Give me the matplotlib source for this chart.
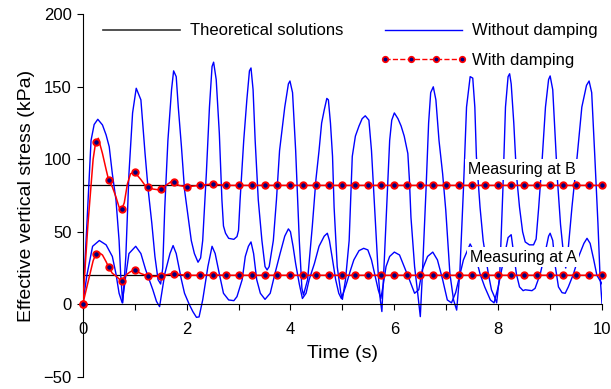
import numpy as np
import matplotlib
matplotlib.use("Agg")
import matplotlib.pyplot as plt
from matplotlib.lines import Line2D
from matplotlib.ticker import MultipleLocator

plt.rcParams['font.family'] = ['Liberation Sans', 'DejaVu Sans']

# theoretical solutions (kPa)
theory_b = 82
theory_a = 20

# without damping, measuring at B
t_free_b = [0.00, 0.08, 0.16, 0.22, 0.29, 0.38, 0.45, 0.51, 0.57, 0.64, 0.70, 0.73, 0.77, 0.83, 0.89,
            0.96, 1.03, 1.12, 1.20, 1.26, 1.33, 1.39, 1.45, 1.50, 1.54, 1.58, 1.64, 1.71, 1.75, 1.80,
            1.84, 1.90, 1.96, 2.03, 2.09, 2.15, 2.22, 2.27, 2.31, 2.38, 2.44, 2.49, 2.52, 2.57, 2.63,
            2.68, 2.71, 2.75, 2.81, 2.91, 2.97, 3.00, 3.03, 3.10, 3.16, 3.21, 3.24, 3.28, 3.32, 3.38,
            3.45, 3.51, 3.55, 3.59, 3.67, 3.73, 3.79, 3.89, 3.96, 3.99, 4.04, 4.10, 4.17, 4.22, 4.25,
            4.33, 4.42, 4.49, 4.55, 4.60, 4.65, 4.70, 4.73, 4.77, 4.81, 4.84, 4.90, 4.97, 5.00, 5.06,
            5.13, 5.19, 5.25, 5.32, 5.38, 5.44, 5.51, 5.56, 5.62, 5.69, 5.73, 5.76, 5.81, 5.88, 5.91,
            5.95, 6.00, 6.07, 6.13, 6.19, 6.26, 6.29, 6.32, 6.39, 6.45, 6.50, 6.54, 6.61, 6.66, 6.70,
            6.75, 6.80, 6.86, 6.93, 6.99, 7.07, 7.14, 7.20, 7.26, 7.33, 7.39, 7.46, 7.51, 7.55, 7.58,
            7.65, 7.71, 7.81, 7.87, 7.93, 7.97, 8.03, 8.09, 8.14, 8.19, 8.22, 8.25, 8.30, 8.35, 8.41,
            8.47, 8.52, 8.60, 8.68, 8.73, 8.78, 8.85, 8.91, 8.97, 9.00, 9.05, 9.10, 9.14, 9.20, 9.27,
            9.30, 9.34, 9.42, 9.52, 9.61, 9.70, 9.75, 9.80, 9.86, 9.92, 9.96, 10.00]
s_free_b = [0, 55, 113, 124, 127.6, 123.7, 116.8, 108.7, 90, 72, 44, 21, 1, 33, 90,
            132, 149, 141, 104, 79, 56, 33, 17, 14, 25, 67, 113, 148, 161, 157,
            136, 109, 79, 60, 44, 35, 29, 32, 44, 90, 136, 164, 167, 155, 118,
            72, 54, 49, 45.5, 44.8, 46.7, 51, 72, 113, 141, 161, 163, 148, 113, 72,
            44, 26, 23.7, 26, 44, 72, 106, 136, 152, 154, 146, 106, 44, 11, 6.4,
            17, 53.6, 86, 106, 125, 134, 142, 141, 125, 102, 67, 26, 7.6, 3.4, 17,
            44, 102, 116, 123, 128, 130, 127, 106, 67, 21, 3, -5, 33, 90, 113,
            127, 132, 128, 123, 116, 104, 86, 60, 26, 7.6, -8.5, 21, 79, 125, 146,
            150, 141, 113, 90, 65, 21, 3, -4, 21, 79, 136, 157, 156, 136, 102,
            67, 44, 21, 10, 5, 1, 21, 79, 136, 157, 159, 152, 125, 90, 67,
            50, 43, 41, 41, 45, 67, 102, 136, 155, 157.5, 148, 113, 86, 55, 30,
            25, 35, 67, 102, 136, 151, 154, 146, 102, 56, 20, 0]

# without damping, measuring at A
t_free_a = [0.00, 0.08, 0.19, 0.32, 0.45, 0.57, 0.64, 0.70, 0.76, 0.83, 0.89, 1.02, 1.12, 1.21, 1.35,
            1.42, 1.48, 1.58, 1.68, 1.74, 1.80, 1.90, 1.96, 2.05, 2.12, 2.19, 2.24, 2.31, 2.41, 2.49,
            2.55, 2.63, 2.71, 2.81, 2.91, 2.97, 3.07, 3.13, 3.19, 3.24, 3.29, 3.35, 3.42, 3.51, 3.61,
            3.70, 3.80, 3.89, 3.96, 4.00, 4.05, 4.10, 4.17, 4.23, 4.30, 4.36, 4.46, 4.55, 4.65, 4.71,
            4.75, 4.80, 4.87, 4.93, 4.98, 5.06, 5.16, 5.22, 5.32, 5.41, 5.49, 5.56, 5.62, 5.69, 5.74,
            5.78, 5.84, 5.91, 6.00, 6.10, 6.19, 6.29, 6.39, 6.47, 6.54, 6.64, 6.74, 6.83, 6.93, 7.02,
            7.10, 7.18, 7.33, 7.46, 7.55, 7.65, 7.74, 7.85, 7.92, 8.00, 8.10, 8.19, 8.25, 8.28, 8.35,
            8.41, 8.48, 8.52, 8.65, 8.71, 8.81, 8.90, 8.97, 9.00, 9.05, 9.10, 9.16, 9.23, 9.29, 9.35,
            9.45, 9.55, 9.65, 9.71, 9.77, 9.84, 9.90, 10.00]
s_free_a = [0, 20, 40, 44, 41, 33, 21, 7.6, 1, 20, 35, 40, 35, 24, 10,
            2, -1.6, 21, 35, 40.5, 35, 17, 7.6, 0, -5, -9, -8.7, 3, 26, 40,
            35, 21, 7.6, 3, 2.5, 5.3, 17, 33, 40, 43, 35, 17, 7.6, 3.4, 7.6,
            21, 35, 47, 52, 50, 40, 28, 14, 4, 7.6, 17, 28, 40, 47, 49,
            44, 33, 17, 7.6, 4, 12, 24, 30.6, 37, 38.6, 37.5, 30.6, 21, 10, 4,
            12, 26, 33, 36, 34, 26, 17, 7.6, 10, 24, 33, 36, 30.6, 17, 3,
            1, 8, 30.6, 41.6, 35, 21, 12, 3, 1, 12, 30, 46, 48, 40, 21,
            12, 9.4, 10, 9.4, 11, 21, 35, 47, 49, 44, 26, 12, 8, 7.6, 12,
            21, 33, 42, 45.5, 42, 30.6, 20, 14]

# with damping: line through the early transient, then the 0.25 s samples
t_damp_early = [0, 0.1, 0.2, 0.25, 0.3, 0.38, 0.45, 0.5, 0.57, 0.64, 0.7, 0.75, 0.8, 0.86, 0.92,
                1.0, 1.05, 1.12, 1.2, 1.25, 1.35, 1.45, 1.5, 1.6, 1.7, 1.75, 1.85, 2.0, 2.25, 2.5]
s_damp_b_early = [0, 55, 100, 112, 114.5, 104, 93, 85.5, 81, 74, 67, 65.5, 70, 83, 90,
                  91.5, 89, 86, 82, 81, 79.5, 79, 79.5, 82, 84.5, 84.5, 82, 81, 82, 83]
s_damp_a_early = [0, 15, 30, 34.5, 36, 34, 29.4, 25.5, 21.4, 19.5, 17.5, 16, 18.6, 21, 22.5,
                  23.8, 22.5, 21.2, 20.2, 19.5, 19.2, 19.3, 19.3, 20.3, 21, 21.2, 20.6, 20, 20, 20.3]

t_samples = np.linspace(0, 10, 41)
s_damp_b = [0, 112, 85.5, 65.5, 91.5, 81, 79.5, 84.5, 81, 82, 83, 82] + [82] * 29
s_damp_a = [0, 34.5, 25.5, 16, 23.8, 19.5, 19.3, 21.2, 20, 20, 20.3, 20] + [20] * 29

fig = plt.figure(figsize=(6.11, 3.89), dpi=100)
ax = fig.add_axes([0.1354, 0.0314, 0.850, 0.9318])

blue = '#0000ff'
red = '#ff0000'
navy = '#000080'

ax.axhline(theory_b, color='black', lw=0.9, zorder=1)
ax.axhline(theory_a, color='black', lw=0.9, zorder=1)

ax.plot(t_free_b, s_free_b, color=blue, lw=1.0, zorder=2)
ax.plot(t_free_a, s_free_a, color=blue, lw=1.0, zorder=2)

late = t_samples > 2.5
for early, samples in [(s_damp_b_early, s_damp_b), (s_damp_a_early, s_damp_a)]:
    tt = list(t_damp_early) + list(t_samples[late])
    ss = list(early) + list(np.array(samples)[late])
    ax.plot(tt, ss, color=red, lw=1.1, zorder=3)
    ax.plot(t_samples, samples, ls='none', marker='o', ms=4.6, mfc=navy, mec=red,
            mew=1.4, zorder=4, clip_on=False)

box = dict(facecolor='white', edgecolor='none', pad=2)
ax.text(8.45, 93, 'Measuring at B', fontsize=11.5, ha='center', va='center', bbox=box, zorder=5)
ax.text(8.48, 32.5, 'Measuring at A', fontsize=11.5, ha='center', va='center', bbox=box, zorder=5)

handles = [
    Line2D([], [], color='#333333', lw=1.2),
    Line2D([], [], color='none'),
    Line2D([], [], color=blue, lw=1.0),
    Line2D([], [], color=red, lw=1.0, ls='--', marker='o', ms=4.0, mfc=navy, mec=red, mew=1.2),
]
labels = ['Theoretical solutions', '', 'Without damping', 'With damping']
ax.legend(handles, labels, ncol=2, loc='upper left', bbox_to_anchor=(0.030, 0.975),
          frameon=False, fontsize=12, handlelength=5.2, handletextpad=0.3,
          columnspacing=2.2, labelspacing=0.85, borderpad=0, borderaxespad=0, numpoints=4)

ax.set_xlim(0, 10)
ax.set_ylim(-50, 200)
ax.spines['top'].set_visible(False)
ax.spines['right'].set_visible(False)
ax.spines['bottom'].set_position(('data', 0))
ax.xaxis.set_major_locator(MultipleLocator(2))
ax.xaxis.set_minor_locator(MultipleLocator(1))
ax.yaxis.set_major_locator(MultipleLocator(50))
ax.tick_params(axis='both', which='both', direction='out', length=4.5, width=0.8,
               labelsize=12)
ax.tick_params(axis='x', pad=8)
ax.set_xlabel('Time (s)', fontsize=14, labelpad=6)
ax.set_ylabel('Effective vertical stress (kPa)', fontsize=14, labelpad=6)

fig.savefig('out.png', dpi=100)
